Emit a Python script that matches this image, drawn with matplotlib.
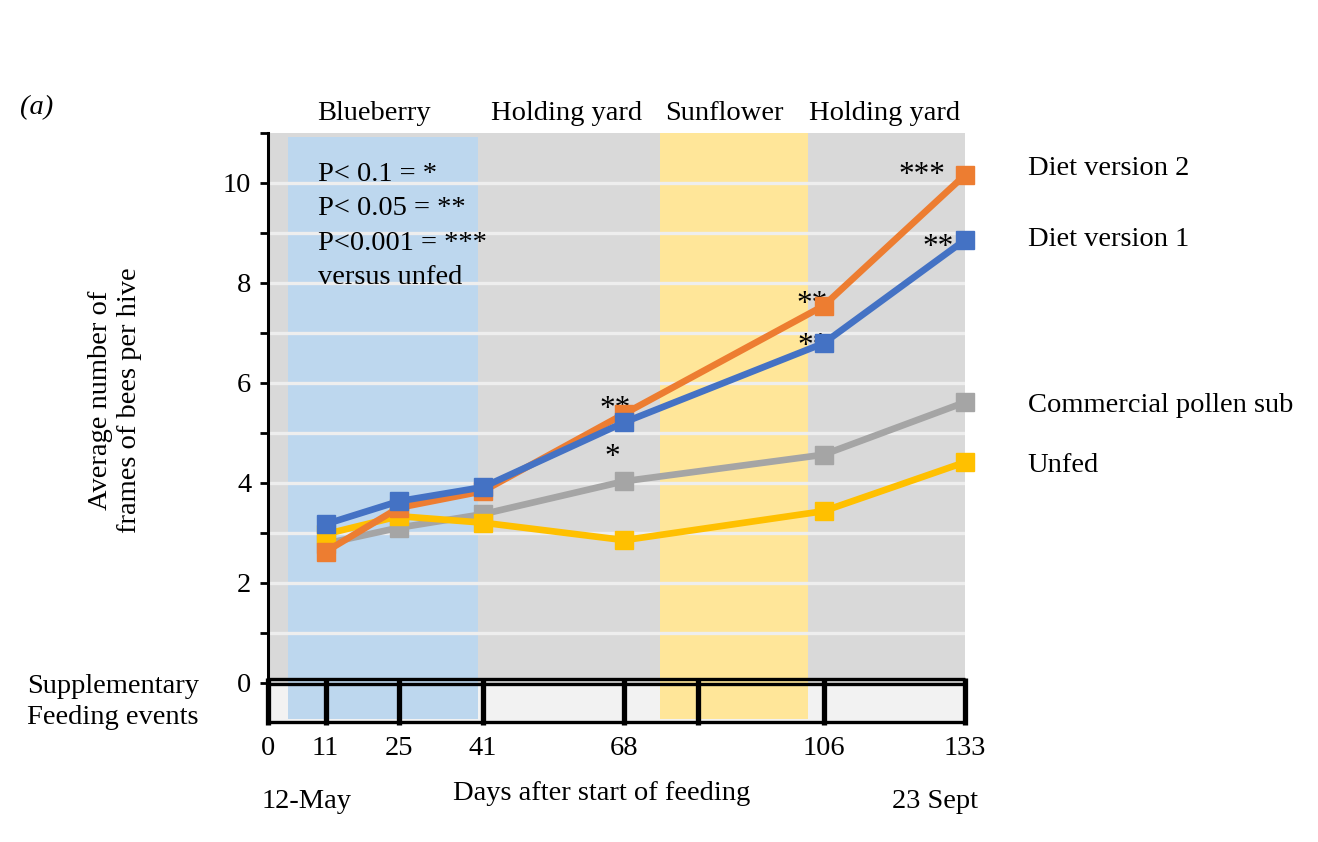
import numpy as np
import matplotlib
matplotlib.use("Agg")
import matplotlib.pyplot as plt
from matplotlib.patches import Rectangle

plt.rcParams['font.family'] = ['Liberation Serif', 'DejaVu Serif']

# Data
days = [11, 25, 41, 68, 106, 133]
diet_v2 = [2.62, 3.50, 3.83, 5.38, 7.54, 10.16]
diet_v1 = [3.17, 3.63, 3.91, 5.21, 6.79, 8.86]
commercial = [2.78, 3.10, 3.37, 4.03, 4.56, 5.61]
unfed = [2.97, 3.33, 3.20, 2.85, 3.43, 4.41]

series_names = ["Diet version 2", "Diet version 1", "Commercial pollen sub", "Unfed"]
series_vals = [diet_v2, diet_v1, commercial, unfed]
series_colors = ["#ED7D31", "#4472C4", "#A5A5A5", "#FFC000"]
series_z = [7, 8, 5, 6]
label_y = [10.28, 8.86, 5.55, 4.35]

# periods
period_names = ["Blueberry", "Holding yard", "Sunflower", "Holding yard"]
period_centers = [20.2, 56.9, 87.0, 117.6]
blue_span = (3.8, 40.0)
yellow_span = (74.8, 103.0)

feeding_days = [0, 11, 25, 41, 68, 82, 106, 133]
xtick_days = [0, 11, 25, 41, 68, 106, 133]

# significance marks
star_x = [66.2, 65.6, 103.8, 104.0, 124.8, 127.9]
star_y = [5.46, 4.5, 7.56, 6.72, 10.15, 8.7]
star_txt = ["**", "*", "**", "**", "***", "**"]

FS = 20.5

fig = plt.figure(figsize=(13.18, 8.42), dpi=100)
ax = fig.add_axes([268 / 1318, 1 - 725 / 842, 697 / 1318, 592 / 842])
ax.set_xlim(0, 133)
ax.set_ylim(-0.85, 11)

# backgrounds
ax.add_patch(Rectangle((0, 0), 133, 11, color="#D9D9D9", zorder=0, lw=0))
ax.add_patch(Rectangle((blue_span[0], 0), blue_span[1] - blue_span[0], 10.92,
                       color="#BDD7EE", zorder=0.5, lw=0))
ax.add_patch(Rectangle((yellow_span[0], 0), yellow_span[1] - yellow_span[0], 11,
                       color="#FFE699", zorder=0.5, lw=0))
for g in range(1, 11):
    ax.axhline(g, color="#EEEEEE", lw=2.4, zorder=1)

# feeding events strip
ax.add_patch(Rectangle((0, -0.78), 133, 0.76, color="#F2F2F2", zorder=0.5, lw=0))
ax.add_patch(Rectangle((blue_span[0], -0.72), blue_span[1] - blue_span[0], 0.70,
                       color="#BDD7EE", zorder=0.6, lw=0))
ax.add_patch(Rectangle((yellow_span[0], -0.72), yellow_span[1] - yellow_span[0], 0.70,
                       color="#FFE699", zorder=0.6, lw=0))
for yy in [0.08, -0.03, -0.78]:
    ax.plot([0, 133], [yy, yy], color="black", lw=2.4, zorder=2, clip_on=False,
            solid_capstyle="butt")
for d in feeding_days:
    ax.plot([d, d], [-0.84, 0.09], color="black", lw=3.8, zorder=2, clip_on=False,
            solid_capstyle="butt")

# lines
for name, vals, c, z, ly in zip(series_names, series_vals, series_colors, series_z, label_y):
    ax.plot(days, vals, color=c, lw=4.8, marker="s", ms=12.5, zorder=z, clip_on=False)
    ax.text(145, ly, name, fontsize=FS, va="center", ha="left")

for sx, sy, st in zip(star_x, star_y, star_txt):
    ax.text(sx, sy, st, fontsize=FS + 2, ha="center", va="center", zorder=4)

ax.text(9.6, 10.42, "P< 0.1 = *\nP< 0.05 = **\nP<0.001 = ***\nversus unfed",
        fontsize=FS, va="top", ha="left", linespacing=1.5, zorder=4)

for name, cx in zip(period_names, period_centers):
    ax.text(cx, 11.4, name, fontsize=FS, ha="center", va="center", clip_on=False)

# axes styling
for s in ["top", "right", "bottom"]:
    ax.spines[s].set_visible(False)
ax.spines["left"].set_bounds(0, 11)
ax.spines["left"].set_linewidth(2.2)
ax.set_yticks(np.arange(0, 12, 1))
ax.set_yticklabels([str(v) if v % 2 == 0 and v <= 10 else "" for v in range(0, 12)])
ax.tick_params(axis="y", length=6, width=2, labelsize=FS, pad=6)
ax.set_xticks(xtick_days)
ax.tick_params(axis="x", length=0, labelsize=FS, pad=8)

ax.text(63.7, -2.22, "Days after start of feeding", fontsize=FS, ha="center", va="center")
ax.text(-1.2, -2.38, "12-May", fontsize=FS, ha="left", va="center")
ax.text(135.5, -2.38, "23 Sept", fontsize=FS, ha="right", va="center")

fig.text(115 / 1318, 1 - 400 / 842, "Average number of\nframes of bees per hive",
         rotation=90, fontsize=FS, ha="center", va="center", linespacing=1.2)
fig.text(27 / 1318, 1 - 702 / 842, "Supplementary\nFeeding events", fontsize=FS,
         ha="left", va="center", linespacing=1.28)
fig.text(20 / 1318, 1 - 108 / 842, "(a)", fontsize=FS, style="italic",
         ha="left", va="center")

fig.savefig("out.png", dpi=100)
